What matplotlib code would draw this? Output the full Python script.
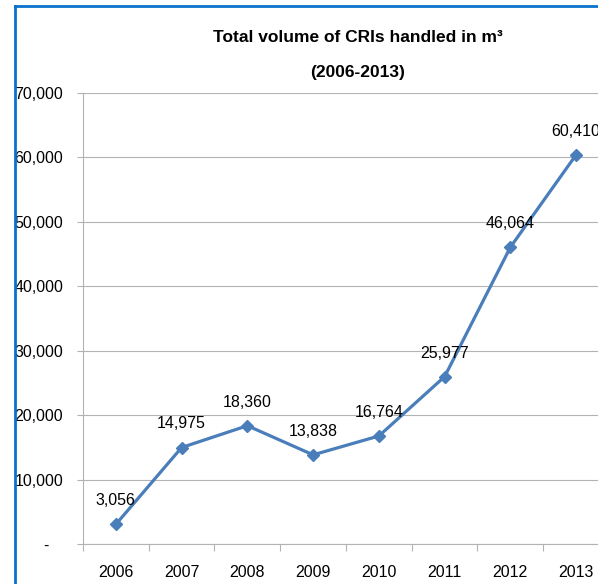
import matplotlib.pyplot as plt
from matplotlib.lines import Line2D
from matplotlib.ticker import FuncFormatter, FixedLocator

plt.rcParams['font.family'] = ['Liberation Sans', 'DejaVu Sans']

# data
years = ['2006', '2007', '2008', '2009', '2010', '2011', '2012', '2013']
volumes = [3056, 14975, 18360, 13838, 16764, 25977, 46064, 60410]
y_ticks = [0, 10000, 20000, 30000, 40000, 50000, 60000, 70000]

line_blue = '#4a7ebb'
grid_grey = '#b3b3b3'
fs = 11.5

fig = plt.figure(figsize=(5.98, 5.84), dpi=100)
ax = fig.add_axes([83 / 598, 1 - 544 / 584, 526 / 598, 451 / 584])

x = list(range(len(years)))
ax.plot(x, volumes, color=line_blue, linewidth=2.3, marker='D', markersize=6,
        markerfacecolor=line_blue, markeredgecolor=line_blue, clip_on=False, zorder=3)

for xi, v in zip(x, volumes):
    ax.annotate(f'{v:,}', (xi, v), xytext=(0, 17), textcoords='offset points',
                ha='center', va='center', fontsize=fs, color='black',
                annotation_clip=False)

ax.set_xlim(-0.5, len(years) - 0.5)
ax.set_ylim(0, 70000)

ax.set_xticks(x)
ax.set_xticklabels(years, fontsize=fs)
ax.tick_params(axis='x', which='major', length=0, pad=15)
ax.xaxis.set_minor_locator(FixedLocator([i - 0.5 for i in range(len(years) + 1)]))
ax.tick_params(axis='x', which='minor', length=5, color=grid_grey, width=0.8)

ax.set_yticks(y_ticks)
ax.yaxis.set_major_formatter(FuncFormatter(lambda v, p: '-   ' if v == 0 else f'{int(v):,}'))
ax.tick_params(axis='y', length=4.3, color=grid_grey, width=0.8, labelsize=fs, pad=10)

ax.grid(axis='y', color=grid_grey, linewidth=0.8)
ax.set_axisbelow(True)
for side in ['top', 'right']:
    ax.spines[side].set_visible(False)
for side in ['left', 'bottom']:
    ax.spines[side].set_color(grid_grey)
    ax.spines[side].set_linewidth(0.8)

fig.text(358 / 598, 1 - 38 / 584, 'Total volume of CRIs handled in m³',
         ha='center', va='center', fontsize=12.5, fontweight='bold')
fig.text(358 / 598, 1 - 72 / 584, '(2006-2013)',
         ha='center', va='center', fontsize=12.5, fontweight='bold')

# blue frame, cut by the right and bottom edges
border = '#0a72cc'
fig.add_artist(Line2D([15 / 598, 15 / 598], [-0.1, 1 - 5.5 / 584], color=border, linewidth=2))
fig.add_artist(Line2D([15 / 598, 1.1], [1 - 5.5 / 584, 1 - 5.5 / 584], color=border, linewidth=2))

fig.savefig('out.png', dpi=100)
